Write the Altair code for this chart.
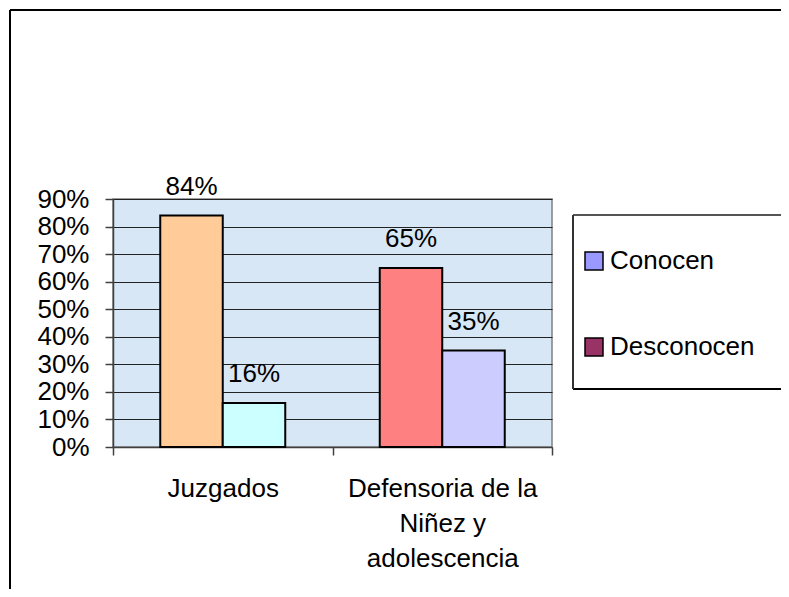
import altair as alt
import pandas as pd

categorias = ["Juzgados", "Juzgados",
              "Defensoria de la Niñez y adolescencia", "Defensoria de la Niñez y adolescencia"]
series = ["Conocen", "Desconocen", "Conocen", "Desconocen"]
valores = [0.84, 0.16, 0.65, 0.35]
colores_barra = ["#FFCC99", "#CCFFFF", "#FF8080", "#CCCCFF"]
orden_cat = ["Juzgados", "Defensoria de la Niñez y adolescencia"]
leyenda_series = ["Conocen", "Desconocen"]
leyenda_colores = ["#9999FF", "#993366"]
ticks_y = [0, 0.1, 0.2, 0.3, 0.4, 0.5, 0.6, 0.7, 0.8, 0.9]

df = pd.DataFrame({"categoria": categorias, "serie": series,
                   "valor": valores, "color": colores_barra})

FONT = "Liberation Sans"
FS = 26

x_enc = alt.X("categoria:N", sort=orden_cat, title=None,
              scale=alt.Scale(paddingInner=0, paddingOuter=0),
              axis=alt.Axis(labelAngle=0, tickBand="extent", tickSize=8,
                            labelPadding=20, labelLineHeight=35, labelLimit=500,
                            labelExpr="indexof(datum.label, 'Defensoria') >= 0 ? ['Defensoria de la', 'Niñez y', 'adolescencia'] : datum.label"))
xo_enc = alt.XOffset("serie:N", sort=leyenda_series,
                     scale=alt.Scale(paddingInner=0, paddingOuter=0.756))
y_enc = alt.Y("valor:Q", title=None,
              scale=alt.Scale(domain=[0, 0.9], nice=False),
              axis=alt.Axis(values=ticks_y, format=".0%", tickSize=8,
                            labelPadding=16, grid=True))

base = alt.Chart(df)

# outer frame: only top and left edges are visible in the reference
frame_top = base.mark_rule(color="black", strokeWidth=2).encode(
    x=alt.value(-103), x2=alt.value(700), y=alt.value(-189))
frame_left = base.mark_rule(color="black", strokeWidth=2).encode(
    x=alt.value(-103), y=alt.value(-189), y2=alt.value(500))

# legend box (right edge falls outside the picture)
legend_fill = base.mark_rect(fill="white", strokeWidth=0).encode(
    x=alt.value(460), x2=alt.value(700), y=alt.value(16), y2=alt.value(190))
lb_top = base.mark_rule(color="#555555", strokeWidth=1.5).encode(
    x=alt.value(460), x2=alt.value(700), y=alt.value(16))
lb_bottom = base.mark_rule(color="black", strokeWidth=1.5).encode(
    x=alt.value(460), x2=alt.value(700), y=alt.value(190))
lb_left = base.mark_rule(color="#333333", strokeWidth=1.5).encode(
    x=alt.value(460), y=alt.value(16), y2=alt.value(190))

bars = base.mark_bar(stroke="black", strokeWidth=2).encode(
    x=x_enc, xOffset=xo_enc, y=y_enc,
    fill=alt.Fill("color:N", scale=None))

labels = base.mark_text(dy=-21, baseline="alphabetic", font=FONT,
                        fontSize=FS, color="black").encode(
    x=x_enc, xOffset=xo_enc, y=y_enc,
    text=alt.Text("valor:Q", format=".0%"))

legend_layer = base.mark_square(opacity=0, size=1).encode(
    x=x_enc, xOffset=xo_enc, y=y_enc,
    color=alt.Color("serie:N",
                    scale=alt.Scale(domain=leyenda_series, range=leyenda_colores),
                    legend=alt.Legend(title=None, orient="none", legendX=468, legendY=49,
                                      symbolType="square", symbolSize=324,
                                      symbolStrokeColor="black", symbolStrokeWidth=1.5,
                                      symbolOpacity=1, labelFont=FONT, labelFontSize=FS,
                                      labelColor="black", labelOffset=3,
                                      rowPadding=60, padding=0)))

chart = alt.layer(frame_top, frame_left, legend_fill, lb_top, lb_bottom, lb_left,
                  bars, labels, legend_layer).properties(
    width=439, height=248,
    autosize=alt.AutoSizeParams(type="none"),
    padding={"left": 105, "top": 191, "right": 229, "bottom": 142},
).configure_view(
    fill="#D8E7F6", stroke="#808080", strokeWidth=1.5
).configure_axis(
    labelFont=FONT, labelFontSize=FS, labelColor="black",
    domainColor="#404040", tickColor="#404040", gridColor="#222222",
    gridWidth=1, domainWidth=1.5, tickWidth=1.5
)

chart.save("out.html", embed_options={"renderer": "svg", "actions": False})
